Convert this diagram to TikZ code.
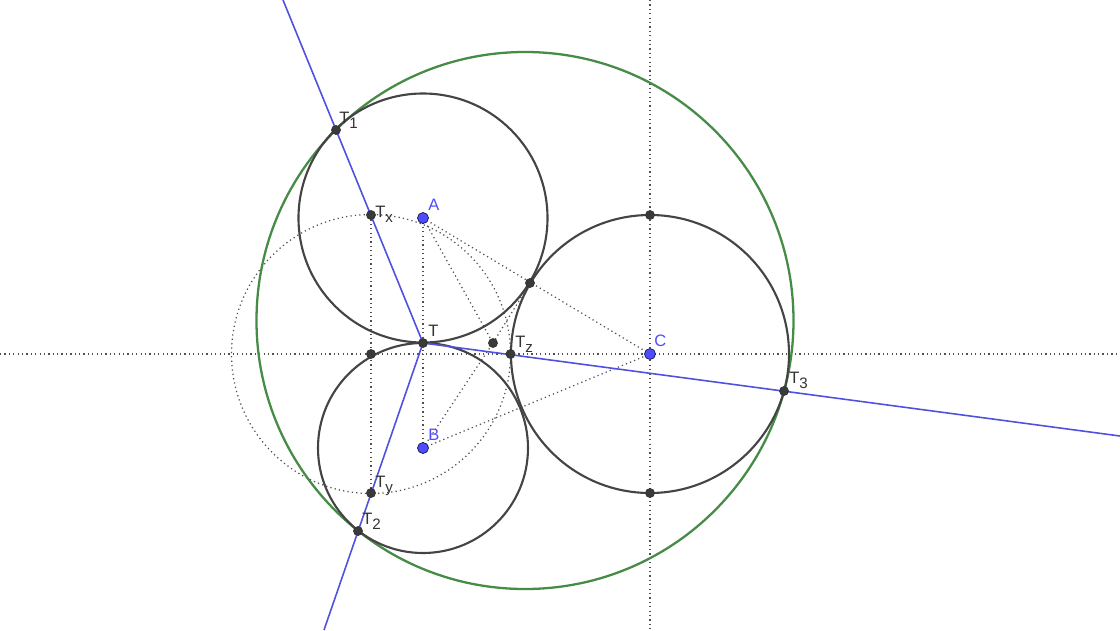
\documentclass[tikz,border=0pt]{standalone}
\usepackage{fontspec}
\setmainfont{Liberation Sans}
\usetikzlibrary{calc}
\definecolor{circgray}{RGB}{68,68,68}
\definecolor{ggreen}{RGB}{70,140,70}
\definecolor{gblue}{RGB}{80,80,225}
\definecolor{pblue}{RGB}{77,77,255}
\definecolor{dotgray}{RGB}{80,80,80}
\definecolor{labgray}{RGB}{50,50,50}
\tikzset{
  darkcirc/.style={draw=circgray, line width=1.2pt},
  greencirc/.style={draw=ggreen, line width=1.3pt},
  blueline/.style={draw=gblue, line width=0.9pt},
  dotline/.style={draw=dotgray, line width=0.7pt, dash pattern=on 0.7pt off 1.8pt},
  darkpt/.style={fill=circgray!85!black, draw=black!80, line width=0.4pt},
  bluept/.style={fill=pblue, draw=black!70!pblue, line width=0.4pt},
  lab/.style={anchor=base west, inner sep=0pt, text=labgray, font=\fontsize{9.4}{10}\selectfont},
  blab/.style={lab, text=pblue}
}
\newcommand{\sbs}[1]{\raisebox{-0.32em}{\fontsize{8.6}{9}\selectfont #1}}
\begin{document}
\begin{tikzpicture}[x=0.02cm,y=-0.02cm]
\useasboundingbox (0,0) rectangle (1120,630);
\fill[white] (0,0) rectangle (1120,630);
% points
\coordinate (A) at (423,218);
\coordinate (B) at (423,448);
\coordinate (C) at (650,354);
\coordinate (T) at (423,343);
\coordinate (T1) at (336,130);
\coordinate (T2) at (358,531);
\coordinate (T3) at (784,391);
\coordinate (Tx) at (371,215);
\coordinate (Ty) at (371,493);
\coordinate (Tz) at (510.5,354);
\coordinate (P) at (493,343);
\coordinate (Q) at (530,283);
\coordinate (M) at (371,354);
\coordinate (Ct) at (650,215);
\coordinate (Cb) at (650,493);
\coordinate (O) at (525,320.5);
\coordinate (hL) at (0,354);
\coordinate (hR) at (1120,354);
\coordinate (vT) at (650,0);
\coordinate (vB) at (650,630);
\coordinate (e1) at (283,0);
\coordinate (e2) at (324,630);
\coordinate (e3) at (1120,436);
% dotted construction
\draw[dotline] (hL) -- (hR);
\draw[dotline] (vT) -- (vB);
\draw[dotline] (Tx) -- (Ty);
\draw[dotline] (M) circle[radius=139.5];
\draw[dotline] (A) -- (B);
\draw[dotline] (A) -- (C);
\draw[dotline] (B) -- (C);
\draw[dotline] (A) -- (P);
\draw[dotline] (B) -- (P);
\draw[dotline] (P) -- (Q);
% circles
\draw[greencirc] (O) circle[radius=268.5];
\draw[darkcirc] (A) circle[radius=124.5];
\draw[darkcirc] (B) circle[radius=105];
\draw[darkcirc] (C) circle[radius=139];
% blue rays
\draw[blueline] (T) -- (e1);
\draw[blueline] (T) -- (e2);
\draw[blueline] (T) -- (e3);
% dark points
\foreach \p in {T1,Tx,T,P,Q,Tz,M,Ty,T2,T3,Ct,Cb}
  \draw[darkpt] (\p) circle[radius=4.5];
\foreach \p in {A,B,C}
  \draw[bluept] (\p) circle[radius=5.5];
% labels
\node[lab] (lT1) at (339,123) {T\sbs{1}};
\node[lab] (lTx) at (375,217) {T\sbs{x}};
\node[blab] (lA) at (428,210) {A};
\node[lab] (lT) at (428,336) {T};
\node[lab] (lTz) at (515,347) {T\sbs{z}};
\node[blab] (lC) at (654,346) {C};
\node[lab] (lT3) at (789,383) {T\sbs{3}};
\node[blab] (lB) at (428,440) {B};
\node[lab] (lTy) at (375,487) {T\sbs{y}};
\node[lab] (lT2) at (362,524) {T\sbs{2}};
\end{tikzpicture}
\end{document}
